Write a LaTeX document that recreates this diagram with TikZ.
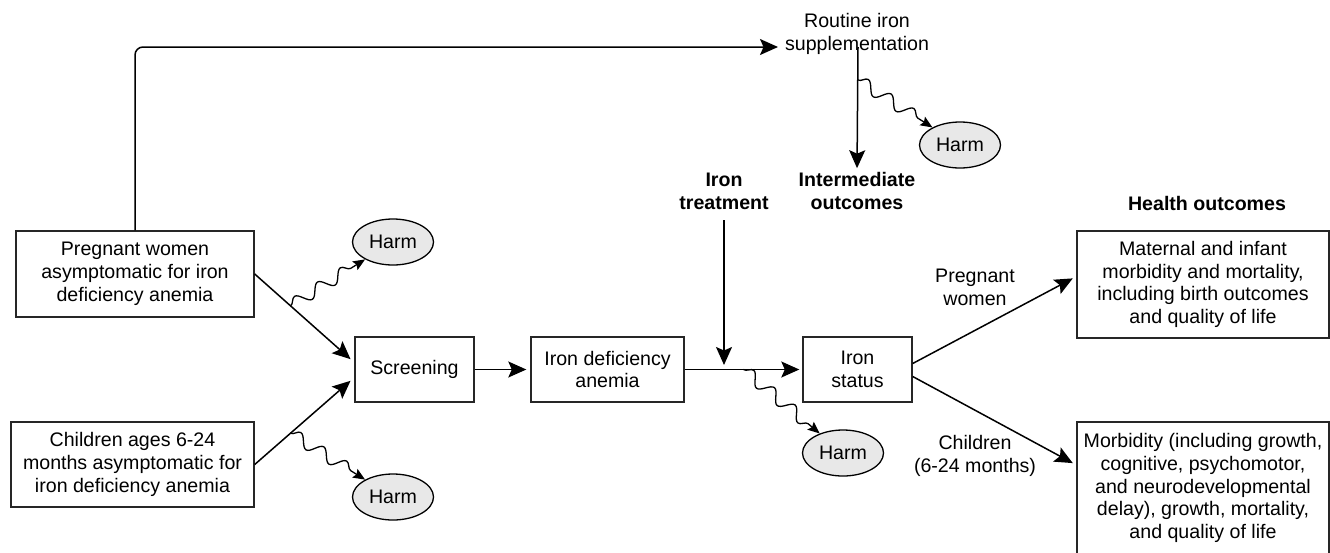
\documentclass[tikz,border=0pt]{standalone}
\usepackage{fontspec}
\setmainfont{Liberation Sans}
\usetikzlibrary{arrows.meta,decorations.pathmorphing,calc,shapes.geometric}
\begin{document}
\begin{tikzpicture}[x=1pt,y=-1pt,
  every node/.style={font=\fontsize{19.6}{22.8}\selectfont, align=center, inner sep=0pt},
  box/.style={draw, line width=1.4pt, rectangle, draw=black!85},
  harm/.style={draw, ellipse, fill=gray!18, line width=1.3pt, minimum width=81pt, minimum height=46pt},
  arr/.style={line width=1.5pt, -{Stealth[length=18pt,width=16pt,inset=3.5pt]}},
  wav/.style={line width=1.3pt, decorate, decoration={snake, amplitude=6pt, segment length=27pt, post length=11pt}, -{Stealth[length=12pt,width=10pt,inset=2pt]}},
  lbl/.style={font=\bfseries\fontsize{19.6}{22.8}\selectfont}
]
\clip (0,0) rectangle (1330,552);
\fill[white] (0,0) rectangle (1330,552);

% main boxes
\node[box, minimum width=238pt, minimum height=86pt] (pw) at (135,274) {Pregnant women\\asymptomatic for iron\\deficiency anemia};
\node[box, minimum width=243pt, minimum height=85pt] (ch) at (132.5,464.5) {Children ages 6-24\\months asymptomatic for\\iron deficiency anemia};
\node[box, minimum width=119pt, minimum height=65pt] (scr) at (414.5,369.5) {Screening};
\node[box, minimum width=153pt, minimum height=65pt] (ida) at (607.5,369.5) {Iron deficiency\\anemia};
\node[box, minimum width=109pt, minimum height=65pt] (ist) at (857.5,369.5) {Iron\\status};
\node[box, minimum width=252pt, minimum height=107pt] (ho1) at (1203,284.5) {Maternal and infant\\morbidity and mortality,\\including birth outcomes\\and quality of life};
\node[box, minimum width=252pt, minimum height=132pt] (ho2) at (1203,488) {Morbidity (including growth,\\cognitive, psychomotor,\\and neurodevelopmental\\delay), growth, mortality,\\and quality of life};

% harms
\node[harm] (h1) at (393,242) {Harm};
\node[harm] (h2) at (393,497) {Harm};
\node[harm] (h3) at (843,453) {Harm};
\node[harm] (h4) at (960,145) {Harm};

% labels
\node (rout) at (857,34) {Routine iron\\supplementation};
\node[lbl] (itr) at (724,191) {Iron\\treatment};
\node[lbl] (int) at (857,191) {Intermediate\\outcomes};
\node[lbl] (hout) at (1207,203) {Health outcomes};
\node (lpw) at (975,287) {Pregnant\\women};
\node (lch) at (975,456) {Children\\(6-24 months)};

% helper coordinates
\coordinate (rin) at (778,47);
\coordinate (rdn) at (858,47);
\coordinate (tin) at (724,220);
\coordinate (s1) at ($(scr.west)+(0,-7)$);
\coordinate (s2) at ($(scr.west)+(0,8)$);
\coordinate (w1) at ($(pw.east)!0.36!(s1)$);
\coordinate (w2) at ($(ch.east)!0.36!(s2)$);
\coordinate (w3) at ($(ida.east)!0.5!(ist.west)$);
\coordinate (w4) at (858,80);
\coordinate (tin2) at (724,370);

% connectors
\draw[arr, rounded corners=8pt] (pw.north) |- (rin);
\draw[arr, shorten >=4pt] (rdn) -- (int.north);
\draw[arr, shorten >=5pt] (pw.east) -- (s1);
\draw[arr, shorten >=5pt] (ch.east) -- (s2);
\draw[arr, shorten >=4pt] (scr.east) -- (ida.west);
\draw[arr, shorten >=3pt] (ida.east) -- (ist.west);
\draw[arr, shorten >=5pt] (tin) -- (tin2);
\draw[arr, shorten >=4pt] ($(ist.east)+(0,-6)$) -- ($(ho1.west)+(0,-8)$);
\draw[arr, shorten >=4pt] ($(ist.east)+(0,7)$) -- ($(ho2.west)+(0,-23)$);

% harm waves
\draw[wav] (w1) -- (h1);
\draw[wav] (w2) -- (h2);
\draw[wav] (w3) -- (h3);
\draw[wav] (w4) -- (h4);
\end{tikzpicture}
\end{document}
